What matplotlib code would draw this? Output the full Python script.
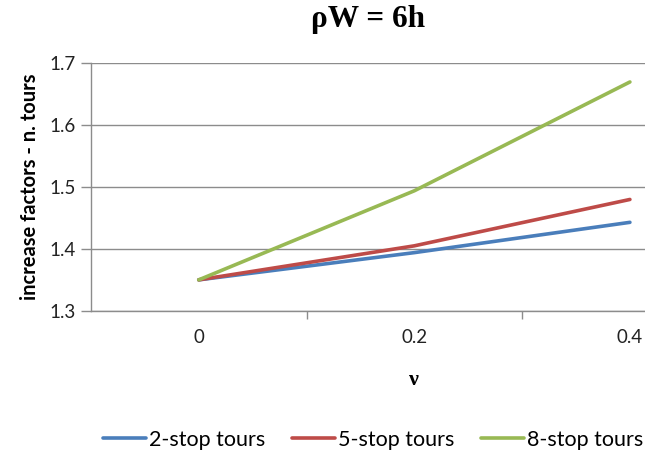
import matplotlib.pyplot as plt

# values
categories = ["0", "0.2", "0.4"]
two_stop = [1.35, 1.394, 1.443]
five_stop = [1.35, 1.405, 1.480]
eight_stop = [1.35, 1.494, 1.670]
y_ticks = [1.3, 1.4, 1.5, 1.6, 1.7]

plt.rcParams['font.family'] = ['Lato', 'DejaVu Sans']

fig = plt.figure(figsize=(6.45, 4.53), dpi=100)
ax = fig.add_axes([0.141, 0.314, 0.859, 0.546])

x = range(len(categories))
ax.plot(x, two_stop, color="#4A7EBB", lw=2.6, label="2-stop tours", solid_capstyle="round")
ax.plot(x, five_stop, color="#BE4B48", lw=2.6, label="5-stop tours", solid_capstyle="round")
ax.plot(x, eight_stop, color="#98B954", lw=2.6, label="8-stop tours", solid_capstyle="round")

ax.set_xlim(-0.5, 2.07)
ax.set_ylim(1.3, 1.7)
ax.set_yticks(y_ticks)
ax.set_yticklabels([f"{v:.1f}" for v in y_ticks])
ax.set_xticks(list(x))
ax.set_xticklabels(categories)
ax.set_xticks([0.5, 1.5], minor=True)
ax.tick_params(axis="x", which="major", length=0, pad=13, labelsize=13.5, labelcolor="#222222")
ax.tick_params(axis="x", which="minor", length=6, color="#8c8c8c", width=1)
ax.tick_params(axis="y", length=7, color="#8c8c8c", width=1, labelsize=13.5, labelcolor="#222222", pad=4)

ax.grid(axis="y", color="#8c8c8c", lw=1)
ax.set_axisbelow(True)
for s in ["top", "right"]:
    ax.spines[s].set_visible(False)
for s in ["left", "bottom"]:
    ax.spines[s].set_color("#8c8c8c")
    ax.spines[s].set_linewidth(1)

ax.set_ylabel("increase factors - n. tours", fontsize=14.5, fontweight="bold", labelpad=7)
fig.text(414 / 645, 1 - 380 / 453, "\u03bd", ha="center", va="center",
         fontsize=16, fontweight="bold", family="Liberation Serif")
fig.text(368 / 645, 1 - 19 / 453, "\u03c1W = 6h", ha="center", va="center",
         fontsize=22.5, fontweight="bold", family="Liberation Serif")

fig.legend(loc="center", bbox_to_anchor=(373 / 645, 1 - 440 / 453), ncol=3, frameon=False,
           fontsize=15.5, handlelength=2.0, handletextpad=0.12, columnspacing=1.25)

plt.savefig("out.png", dpi=100)
